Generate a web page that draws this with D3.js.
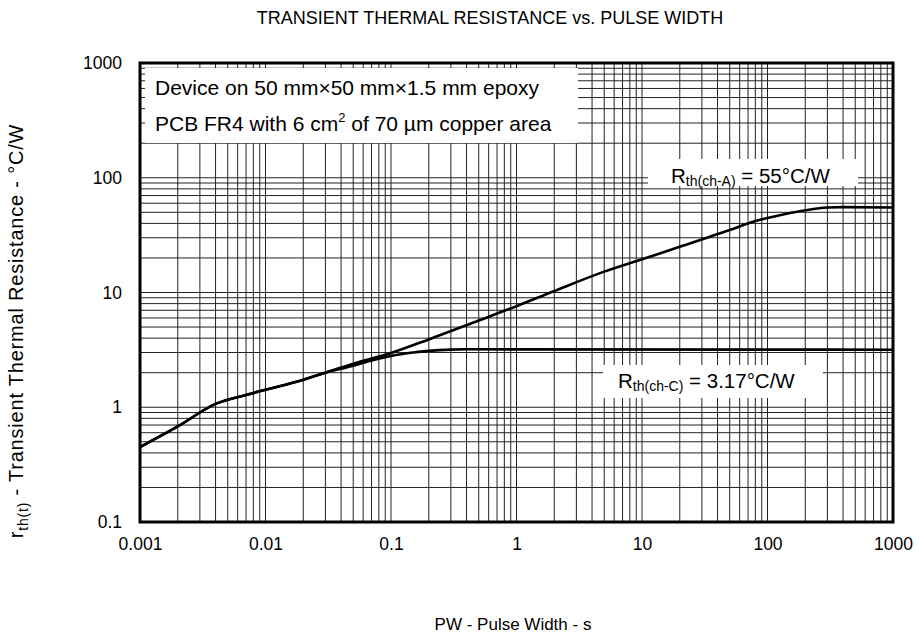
<!DOCTYPE html>
<html>
<head>
<meta charset="utf-8">
<script src="https://cdn.jsdelivr.net/npm/d3@7"></script>
<style>
  html, body { margin: 0; padding: 0; background: #fff; }
  svg { display: block; font-family: "Liberation Sans", Arial, sans-serif; }
</style>
</head>
<body>
<svg id="chart" width="921" height="639"></svg>
<script>
// ---- data ----
const xTickValues = [0.001, 0.01, 0.1, 1, 10, 100, 1000];
const xTickLabels = ["0.001", "0.01", "0.1", "1", "10", "100", "1000"];
const yTickValues = [0.1, 1, 10, 100, 1000];
const yTickLabels = ["0.1", "1", "10", "100", "1000"];

const chA_pw  = [0.001, 0.002, 0.004, 0.007, 0.01, 0.02, 0.03, 0.05, 0.1, 0.2, 0.5, 1, 2, 5, 10, 20, 50, 80, 100, 200, 300, 400, 1000];
const chA_rth = [0.45, 0.68, 1.07, 1.28, 1.42, 1.74, 2.0, 2.4, 2.97, 3.9, 5.7, 7.6, 10.3, 15.2, 19.5, 25, 35, 42, 44.5, 52, 55, 55.5, 55];

const chC_pw  = [0.001, 0.002, 0.004, 0.007, 0.01, 0.02, 0.03, 0.05, 0.07, 0.1, 0.15, 0.2, 0.3, 0.4, 1000];
const chC_rth = [0.45, 0.68, 1.07, 1.28, 1.42, 1.74, 2.0, 2.3, 2.55, 2.8, 3.0, 3.1, 3.18, 3.2, 3.17];

const title = "TRANSIENT THERMAL RESISTANCE vs. PULSE WIDTH";
const xTitle = "PW - Pulse Width - s";

// ---- layout ----
const svg = d3.select("#chart");
const L = 140, R = 893, T = 63, B = 522;

const x = d3.scaleLog().domain([0.001, 1000]).range([L, R]);
const y = d3.scaleLog().domain([0.1, 1000]).range([B, T]);

// grid values (1..9 per decade)
function gridVals(lo, hi) {
  const v = [];
  for (let e = Math.log10(lo); e < Math.log10(hi); e++) {
    for (let m = 1; m <= 9; m++) v.push(m * Math.pow(10, e));
  }
  v.push(hi);
  return v;
}
const gx = gridVals(0.001, 1000);
const gy = gridVals(0.1, 1000);

const grid = svg.append("g").attr("stroke", "#222").attr("stroke-width", 1);
grid.selectAll("line.v").data(gx).join("line").attr("class", "v")
  .attr("x1", d => x(d)).attr("x2", d => x(d)).attr("y1", T).attr("y2", B);
grid.selectAll("line.h").data(gy).join("line").attr("class", "h")
  .attr("x1", L).attr("x2", R).attr("y1", d => y(d)).attr("y2", d => y(d));

// annotation boxes (white, covering grid)
const box = svg.append("g");
box.append("rect").attr("x", 145).attr("y", 68).attr("width", 433).attr("height", 75).attr("fill", "#fff");
box.append("rect").attr("x", 648).attr("y", 159).attr("width", 210).attr("height", 27).attr("fill", "#fff");
box.append("rect").attr("x", 603).attr("y", 365).attr("width", 220).attr("height", 33).attr("fill", "#fff");

// curves
const line = d3.line().x(d => x(d[0])).y(d => y(d[1])).curve(d3.curveMonotoneX);
svg.append("path").datum(d3.zip(chC_pw, chC_rth)).attr("d", line)
  .attr("fill", "none").attr("stroke", "#000").attr("stroke-width", 2.6);
svg.append("path").datum(d3.zip(chA_pw, chA_rth)).attr("d", line)
  .attr("fill", "none").attr("stroke", "#000").attr("stroke-width", 2.6);

// frame
svg.append("rect").attr("x", L).attr("y", T).attr("width", R - L).attr("height", B - T)
  .attr("fill", "none").attr("stroke", "#000").attr("stroke-width", 3);

// axes labels
const xAxis = d3.axisBottom(x).tickValues(xTickValues).tickFormat((d, i) => xTickLabels[i]).tickSize(0).tickPadding(16);
const gxA = svg.append("g").attr("transform", `translate(0,${B})`).call(xAxis);
gxA.select(".domain").remove();
gxA.selectAll("text").attr("font-size", 17.5).attr("font-family", "Liberation Sans, Arial, sans-serif").attr("fill", "#000");

const yAxis = d3.axisLeft(y).tickValues(yTickValues).tickFormat((d, i) => yTickLabels[i]).tickSize(0).tickPadding(18);
const gyA = svg.append("g").attr("transform", `translate(${L},0)`).call(yAxis);
gyA.select(".domain").remove();
gyA.selectAll("text").attr("font-size", 17.5).attr("font-family", "Liberation Sans, Arial, sans-serif").attr("fill", "#000");

// title
svg.append("text").attr("x", 490).attr("y", 24).attr("text-anchor", "middle")
  .attr("font-size", 18).text(title);

// x title
svg.append("text").attr("x", 513).attr("y", 630).attr("text-anchor", "middle")
  .attr("font-size", 17).text(xTitle);

// y title
const yt = svg.append("text").attr("transform", "translate(23,331) rotate(-90)")
  .attr("text-anchor", "middle").attr("font-size", 20).attr("letter-spacing", 0.8);
yt.append("tspan").text("r");
yt.append("tspan").attr("font-size", 14).attr("dy", 5).text("th(t)");
yt.append("tspan").attr("dy", -5).text(" - Transient Thermal Resistance - °C/W");

// box texts
svg.append("text").attr("x", 155).attr("y", 95).attr("font-size", 21)
  .text("Device on 50 mm×50 mm×1.5 mm epoxy");
const t2 = svg.append("text").attr("x", 155).attr("y", 131).attr("font-size", 21);
t2.append("tspan").text("PCB FR4 with 6 cm");
t2.append("tspan").attr("font-size", 13).attr("dy", -9).text("2");
t2.append("tspan").attr("dy", 9).text(" of 70 µm copper area");

function rLabel(xp, yp, sub, rest) {
  const t = svg.append("text").attr("x", xp).attr("y", yp).attr("font-size", 20.5);
  t.append("tspan").text("R");
  t.append("tspan").attr("font-size", 14).attr("dy", 3).text(sub);
  t.append("tspan").attr("dy", -3).text(rest);
}
rLabel(671, 183, "th(ch-A)", " = 55°C/W");
rLabel(618, 388, "th(ch-C)", " = 3.17°C/W");
</script>
</body>
</html>
